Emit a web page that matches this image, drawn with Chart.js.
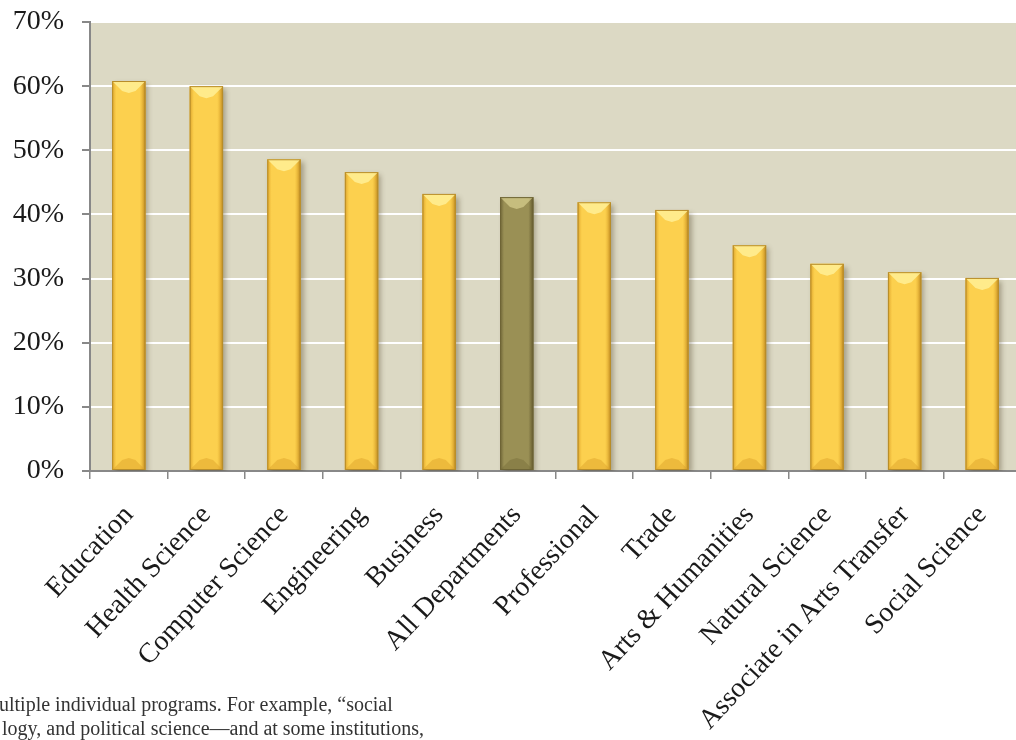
<!DOCTYPE html>
<html>
<head>
<meta charset="utf-8">
<script src="https://cdn.jsdelivr.net/npm/chart.js@4.4.0/dist/chart.umd.min.js"></script>
<style>
  html, body { margin: 0; padding: 0; background: #fff; overflow: hidden; }
  #wrap { position: relative; width: 1030px; height: 740px; }
  .note {
    position: absolute; left: 0; font-family: "Liberation Serif", serif;
    font-size: 20px; color: #333; white-space: nowrap;
  }
</style>
</head>
<body>
<div id="wrap">
  <canvas id="deptChart" width="1030" height="740"></canvas>
  <div class="note" style="top:693px; left:-1px;">ultiple individual programs. For example, “social</div>
  <div class="note" style="top:717px; left:2px;">logy, and political science—and at some institutions,</div>
</div>
<script>
const departments = ['Education', 'Health Science', 'Computer Science', 'Engineering', 'Business',
  'All Departments', 'Professional', 'Trade', 'Arts & Humanities', 'Natural Science',
  'Associate in Arts Transfer', 'Social Science'];
const shares = [60.8, 60.0, 48.6, 46.6, 43.2, 42.7, 41.9, 40.7, 35.2, 32.3, 31.0, 30.1];
const yTicks = [0, 10, 20, 30, 40, 50, 60, 70];

const gold = '#fcd04e';
const olive = '#9a9055';
const barColors = departments.map(d => d === 'All Departments' ? olive : gold);

// plot area fill
const plotBg = {
  id: 'plotBg',
  beforeDraw(chart) {
    const { ctx, chartArea: a } = chart;
    ctx.save();
    ctx.fillStyle = '#dcd9c4';
    ctx.fillRect(a.left, a.top, a.right - a.left, a.bottom - a.top);
    ctx.restore();
  }
};

// soft shadow behind the bars plus bevelled edges on top
const bevel = {
  id: 'bevel',
  beforeDatasetsDraw(chart) {
    const ctx = chart.ctx;
    ctx.save();
    ctx.shadowColor = 'rgba(60,50,20,0.35)';
    ctx.shadowOffsetX = 3;
    ctx.shadowOffsetY = 3;
    ctx.shadowBlur = 5;
  },
  afterDatasetsDraw(chart) {
    const ctx = chart.ctx;
    ctx.restore();
    const meta = chart.getDatasetMeta(0);
    meta.data.forEach((bar, i) => {
      const isOlive = barColors[i] === olive;
      const x0 = bar.x - bar.width / 2, x1 = bar.x + bar.width / 2;
      const top = bar.y, base = bar.base, w = bar.width;
      ctx.save();
      // side shading
      const g = ctx.createLinearGradient(x0, 0, x1, 0);
      if (isOlive) {
        g.addColorStop(0, 'rgba(90,80,40,0.7)');
        g.addColorStop(0.12, 'rgba(90,80,40,0)');
        g.addColorStop(0.85, 'rgba(90,80,40,0)');
        g.addColorStop(1, 'rgba(80,70,30,0.8)');
      } else {
        g.addColorStop(0, 'rgba(200,140,30,0.75)');
        g.addColorStop(0.13, 'rgba(230,170,40,0)');
        g.addColorStop(0.82, 'rgba(230,170,40,0)');
        g.addColorStop(1, 'rgba(170,115,20,0.85)');
      }
      ctx.fillStyle = g;
      ctx.fillRect(x0, top, w, base - top);
      // top bevel
      const d = Math.min(w * 0.3, 10);
      ctx.beginPath();
      ctx.moveTo(x0, top);
      ctx.lineTo(x1, top);
      ctx.lineTo(x1 - d, top + d);
      ctx.lineTo(bar.x, top + d * 1.2);
      ctx.lineTo(x0 + d, top + d);
      ctx.closePath();
      ctx.fillStyle = isOlive ? 'rgba(235,225,160,0.55)' : 'rgba(255,240,150,0.85)';
      ctx.fill();
      // bottom bevel
      ctx.beginPath();
      ctx.moveTo(x0, base);
      ctx.lineTo(x1, base);
      ctx.lineTo(x1 - d, base - d);
      ctx.lineTo(bar.x, base - d * 1.2);
      ctx.lineTo(x0 + d, base - d);
      ctx.closePath();
      ctx.fillStyle = isOlive ? 'rgba(110,100,50,0.35)' : 'rgba(220,160,40,0.45)';
      ctx.fill();
      // outline
      ctx.strokeStyle = isOlive ? '#6e6536' : '#b88d2a';
      ctx.lineWidth = 1;
      ctx.strokeRect(x0 + 0.5, top + 0.5, w - 1, base - top - 1);
      ctx.restore();
    });
  }
};

const ctx = document.getElementById('deptChart').getContext('2d');
new Chart(ctx, {
  type: 'bar',
  data: {
    labels: departments,
    datasets: [{
      data: shares,
      backgroundColor: barColors,
      borderWidth: 0,
      barPercentage: 0.43,
      categoryPercentage: 1
    }]
  },
  options: {
    responsive: false,
    animation: false,
    layout: { padding: { top: 22, right: 9, left: 0, bottom: 0 } },
    plugins: { legend: { display: false }, tooltip: { enabled: false } },
    scales: {
      y: {
        min: 0,
        max: 70,
        afterFit(scale) {
          scale.width = 90;
          scale.paddingTop = 0;
          scale.paddingBottom = 0;
        },
        afterBuildTicks(scale) { scale.ticks = yTicks.map(v => ({ value: v })); },
        ticks: {
          callback: v => v + '%',
          color: '#1a1a1a',
          padding: 18,
          font: { family: 'Liberation Serif', size: 28 }
        },
        grid: { color: '#ffffff', lineWidth: 2, tickColor: '#888', tickLength: 8 },
        border: { color: '#888', width: 2 }
      },
      x: {
        afterFit(scale) { scale.height = 269; },
        ticks: {
          color: '#1a1a1a',
          minRotation: 47,
          maxRotation: 47,
          autoSkip: false,
          padding: 20,
          font: { family: 'Liberation Serif', size: 28 }
        },
        grid: { drawOnChartArea: false, tickColor: '#888', tickLength: 8, lineWidth: 1.5 },
        border: { color: '#888', width: 2 }
      }
    }
  },
  plugins: [plotBg, bevel]
});
</script>
</body>
</html>
